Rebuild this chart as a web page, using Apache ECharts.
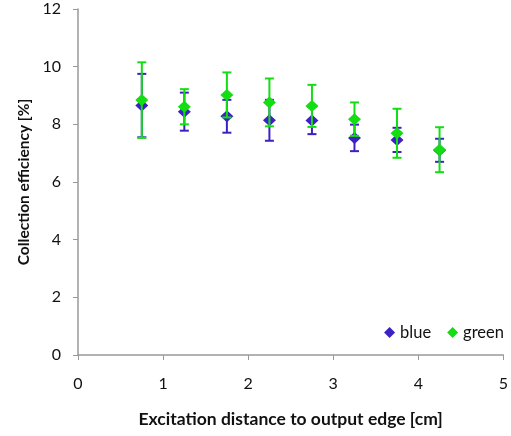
<!DOCTYPE html>
<html>
<head>
<meta charset="utf-8">
<script src="https://cdn.jsdelivr.net/npm/echarts@6/dist/echarts.min.js"></script>
<style>html,body{margin:0;padding:0;background:#fff;}#c{width:511px;height:436px;}</style>
</head>
<body>
<div id="c"></div>
<script>
var distances = [0.75, 1.25, 1.75, 2.25, 2.75, 3.25, 3.75, 4.25];
var blueValues = [8.65, 8.44, 8.28, 8.14, 8.13, 7.53, 7.46, 7.10];
var blueErrors = [1.10, 0.66, 0.57, 0.71, 0.47, 0.46, 0.42, 0.40];
var greenValues = [8.84, 8.61, 9.02, 8.76, 8.64, 8.18, 7.69, 7.12];
var greenErrors = [1.31, 0.61, 0.78, 0.83, 0.73, 0.58, 0.85, 0.78];
var xTicks = [0, 1, 2, 3, 4, 5];
var yTicks = [0, 2, 4, 6, 8, 10, 12];

var BLUE = '#3C22C2', GREEN = '#12DE12';
var FONT = 'Lato';

function pts(vals) { return distances.map(function (d, i) { return [d, vals[i]]; }); }
function errs(vals, e) { return distances.map(function (d, i) { return [d, vals[i] - e[i], vals[i] + e[i]]; }); }

function errRender(color) {
  return function (params, api) {
    var x = api.value(0);
    var lo = api.coord([x, api.value(1)]);
    var hi = api.coord([x, api.value(2)]);
    var cw = 4.5;
    var st = { stroke: color, lineWidth: 2 };
    return {
      type: 'group',
      children: [
        { type: 'line', shape: { x1: lo[0], y1: lo[1], x2: hi[0], y2: hi[1] }, style: st },
        { type: 'line', shape: { x1: hi[0] - cw, y1: hi[1], x2: hi[0] + cw, y2: hi[1] }, style: st },
        { type: 'line', shape: { x1: lo[0] - cw, y1: lo[1], x2: lo[0] + cw, y2: lo[1] }, style: st }
      ]
    };
  };
}

var chart = echarts.init(document.getElementById('c'), null, { renderer: 'canvas' });
chart.setOption({
  animation: false,
  textStyle: { fontFamily: FONT },
  grid: { left: 78, right: 3, top: 9, bottom: 81 },
  legend: {
    data: [{ name: 'blue', icon: 'diamond' }, { name: 'green', icon: 'diamond' }],
    right: 2, top: 319, itemWidth: 11, itemHeight: 11, itemGap: 16,
    textStyle: { fontFamily: FONT, fontSize: 16.5, color: '#111' }
  },
  xAxis: {
    type: 'value', min: xTicks[0], max: xTicks[xTicks.length - 1], interval: 1,
    name: 'Excitation distance to output edge [cm]', nameLocation: 'middle', nameGap: 55,
    nameTextStyle: { fontFamily: FONT, fontSize: 17.5, fontWeight: 'bold', color: '#111' },
    axisLine: { lineStyle: { color: '#999', width: 1.5 } },
    axisTick: { show: true, length: 5, inside: false, lineStyle: { color: '#999' } },
    axisLabel: { fontFamily: FONT, fontSize: 16, color: '#111', margin: 21 },
    splitLine: { show: false }
  },
  yAxis: {
    type: 'value', min: yTicks[0], max: yTicks[yTicks.length - 1], interval: 2,
    name: 'Collection efficiency [%]', nameLocation: 'middle', nameGap: 46,
    nameTextStyle: { fontFamily: FONT, fontSize: 15.5, fontWeight: 'bold', color: '#111' },
    axisLine: { show: true, lineStyle: { color: '#999', width: 1.5 } },
    axisTick: { show: true, length: 5, lineStyle: { color: '#999' } },
    axisLabel: { fontFamily: FONT, fontSize: 16, color: '#111', margin: 17 },
    splitLine: { show: false }
  },
  series: [
    { name: 'blueErr', type: 'custom', renderItem: errRender(BLUE), data: errs(blueValues, blueErrors), z: 1, silent: true },
    { name: 'blue', type: 'scatter', symbol: 'diamond', symbolSize: [13, 12], itemStyle: { color: BLUE, opacity: 1 }, data: pts(blueValues), z: 2 },
    { name: 'greenErr', type: 'custom', renderItem: errRender(GREEN), data: errs(greenValues, greenErrors), z: 3, silent: true },
    { name: 'green', type: 'scatter', symbol: 'diamond', symbolSize: [13, 12], itemStyle: { color: GREEN, opacity: 1 }, data: pts(greenValues), z: 4 }
  ]
});
</script>
</body>
</html>
